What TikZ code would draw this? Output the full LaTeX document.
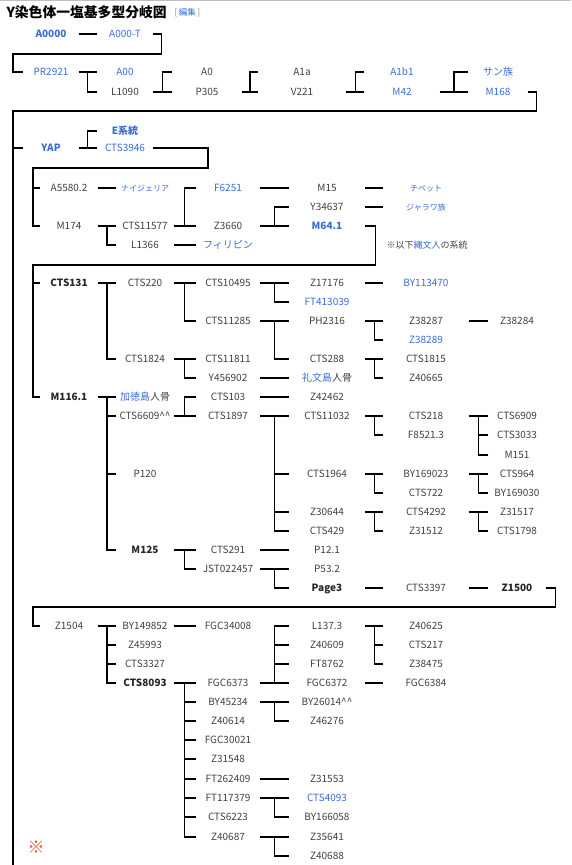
\documentclass[tikz,border=0pt]{standalone}
\usepackage{fontspec}
\setmainfont{Noto Sans CJK JP}
\usepackage{tikz}
\usetikzlibrary{calc}
\definecolor{txtgray}{RGB}{64,64,64}
\definecolor{lnkblue}{RGB}{58,108,212}
\definecolor{komered}{RGB}{255,72,48}
\NewDocumentCommand \branch{ m m m }{%
    \draw (#1.east) -- (#2.west);
    \foreach \ch in {#3} {\draw (\ch.west) -| ($(#1.east)!.5!(#2.west)$);}%
}
\NewDocumentCommand \carets{}{\textasciicircum\textasciicircum}

\begin{document}
\begin{tikzpicture}[x=1pt, y=-1pt, line width=1.1pt]
    \tikzstyle{lbl}=[inner sep=0pt, text height=7.5pt, text depth=0pt, text=txtgray, font=\fontsize{10}{12}\selectfont]
    \tikzstyle{bld}=[lbl, text=black!85, font=\fontsize{10}{12}\selectfont\bfseries]
    \tikzstyle{lnk}=[lbl, text=lnkblue]
    \tikzstyle{lnkb}=[bld, text=lnkblue]
    \tikzstyle{lnks}=[lnk, font=\fontsize{8}{10}\selectfont]
    \tikzstyle{t1}=[minimum width=54pt]
    \tikzstyle{t2}=[minimum width=55pt]
    \tikzstyle{t3}=[minimum width=69pt]
    \tikzstyle{t4}=[minimum width=87pt]
    \tikzstyle{t5}=[minimum width=74pt]
    \tikzstyle{t6}=[minimum width=58pt]
    \tikzstyle{c1}=[minimum width=56pt]
    \tikzstyle{c2}=[minimum width=56pt]
    \tikzstyle{c3}=[minimum width=63pt]
    \tikzstyle{c4}=[minimum width=75pt]
    \tikzstyle{c5}=[minimum width=84pt]
    \tikzstyle{c6}=[minimum width=56pt]
    \useasboundingbox (0,0) rectangle (571,865);
    \draw[black!25, line width=0.8pt] (0,0.8) -- (571,0.8);
    \node[anchor=west, inner sep=0pt, font=\fontsize{13.8}{16}\selectfont\bfseries] (title) at (6,12) {Y染色体一塩基多型分岐図};
    \node[anchor=west, inner sep=0pt, text=lnkblue, font=\fontsize{8.5}{10}\selectfont] (edit) at (174,12.5) {{\color{black!45}[}\,編集\,{\color{black!45}]}};
    % trunk
    \coordinate (b1) at (13,54);
    \coordinate (b2) at (13,111);
    \coordinate (trunkend) at (13,865);
    \coordinate (b3) at (208,168);
    \coordinate (b4) at (33,168);
    \coordinate (b5) at (33,265);
    \coordinate (b6) at (33,607);
    % A
    \node[lnkb, t1] (a0000) at (51,34) {A0000};
    \node[lnk, t2] (a000t) at (125,34) {A000-T};
    \node[lnk, t1] (pr2921) at (51,72) {PR2921};
    \node[lnk, t2] (a00) at (125,72) {A00};
    \node[lbl, t2] (l1090) at (125,92) {L1090};
    \node[lbl, t3] (a0) at (207,72) {A0};
    \node[lbl, t3] (p305) at (207,92) {P305};
    \node[lbl, t4] (a1a) at (302,72) {A1a};
    \node[lbl, t4] (v221) at (302,92) {V221};
    \node[lnk, t5] (a1b1) at (402,72) {A1b1};
    \node[lnk, t5] (m42) at (402,92) {M42};
    \node[lnk, t6] (san) at (498,72) {サン族};
    \node[lnk, t6] (m168) at (498,92) {M168};
    \draw (a0000.east) -- (a000t.west);
    \draw (a000t.east) -- ++(8,0) |- (b1) |- (pr2921.west);
    \branch{pr2921}{a00}{l1090}
    \branch{l1090}{p305}{a0}
    \branch{p305}{v221}{a1a}
    \branch{v221}{m42}{a1b1}
    \branch{m42}{m168}{san}
    \draw (m168.east) -- ++(9,0) |- (b2) -- (trunkend);
    % YAP
    \node[lnkb, t1] (yap) at (51,148) {YAP};
    \node[lnkb, t2] (esys) at (125,131) {E系統};
    \node[lnk, t2] (cts3946) at (125,148) {CTS3946};
    \draw (b2 |- yap.west) -- (yap.west);
    \branch{yap}{cts3946}{esys}
    % D
    \node[lbl, c1] (a5580) at (69,188) {A5580.2};
    \node[lnks, c2] (nigeria) at (145,188) {ナイジェリア};
    \node[lbl, c1] (m174) at (69,226) {M174};
    \node[lbl, c2] (cts11577) at (145,226) {CTS11577};
    \node[lbl, c2] (l1366) at (145,245) {L1366};
    \node[lnk, c3] (f6251) at (228,188) {F6251};
    \node[lbl, c3] (z3660) at (228,226) {Z3660};
    \node[lnk, c3] (phil) at (228,245) {フィリピン};
    \node[lbl, c4] (m15) at (327,188) {M15};
    \node[lbl, c4] (y34637) at (327,207) {Y34637};
    \node[lnkb, c4] (m641) at (327,226) {M64.1};
    \node[lnks, c5] (tibet) at (426,188) {チベット};
    \node[lnks, c5] (jarawa) at (426,207) {ジャラワ族};
    \node[lbl, anchor=west, font=\fontsize{9}{11}\selectfont] (note) at (386,245) {※以下{\color{lnkblue}縄文人}の系統};
    \draw (cts3946.east) -| (b3) -- (b4) |- (m174.west);
    \draw (b4 |- a5580.west) -- (a5580.west);
    \draw (a5580.east) -- (nigeria.west);
    \branch{m174}{cts11577}{l1366}
    \branch{cts11577}{z3660}{f6251}
    \draw (l1366.east) -- (phil.west);
    \draw (f6251.east) -- (m15.west);
    \branch{z3660}{m641}{y34637}
    \draw (m15.east) -- (tibet.west);
    \draw (y34637.east) -- (jarawa.west);
    % D1b
    \node[bld, c1] (cts131) at (69,283) {CTS131};
    \node[bld, c1] (m1161) at (69,397) {M116.1};
    \node[lbl, c2] (cts220) at (145,283) {CTS220};
    \node[lbl, c2] (cts1824) at (145,359) {CTS1824};
    \node[lbl, c2] (kadeok) at (145,397) {{\color{lnkblue}加徳島}人骨};
    \node[lbl, c2] (cts6609) at (145,416) {CTS6609\carets};
    \node[lbl, c2] (p120) at (145,474) {P120};
    \node[bld, c2] (m125) at (145,550) {M125};
    \node[lbl, c3] (cts10495) at (228,283) {CTS10495};
    \node[lbl, c3] (cts11285) at (228,321) {CTS11285};
    \node[lbl, c3] (cts11811) at (228,359) {CTS11811};
    \node[lbl, c3] (y456902) at (228,378) {Y456902};
    \node[lbl, c3] (cts103) at (228,397) {CTS103};
    \node[lbl, c3] (cts1897) at (228,416) {CTS1897};
    \node[lbl, c3] (cts291) at (228,550) {CTS291};
    \node[lbl, c3] (jst022457) at (228,569) {JST022457};
    \node[lbl, c4] (z17176) at (327,283) {Z17176};
    \node[lnk, c4] (ft413039) at (327,302) {FT413039};
    \node[lbl, c4] (ph2316) at (327,321) {PH2316};
    \node[lbl, c4] (cts288) at (327,359) {CTS288};
    \node[lbl, c4] (rebun) at (327,378) {{\color{lnkblue}礼文島}人骨};
    \node[lbl, c4] (z42462) at (327,397) {Z42462};
    \node[lbl, c4] (cts11032) at (327,416) {CTS11032};
    \node[lbl, c4] (cts1964) at (327,474) {CTS1964};
    \node[lbl, c4] (z30644) at (327,512) {Z30644};
    \node[lbl, c4] (cts429) at (327,531) {CTS429};
    \node[lbl, c4] (p121) at (327,550) {P12.1};
    \node[lbl, c4] (p532) at (327,569) {P53.2};
    \node[bld, c4] (page3) at (327,588) {Page3};
    \node[lnk, c5] (by113470) at (426,283) {BY113470};
    \node[lbl, c5] (z38287) at (426,321) {Z38287};
    \node[lnk, c5] (z38289) at (426,340) {Z38289};
    \node[lbl, c5] (cts1815) at (426,359) {CTS1815};
    \node[lbl, c5] (z40665) at (426,378) {Z40665};
    \node[lbl, c5] (cts218) at (426,416) {CTS218};
    \node[lbl, c5] (f85213) at (426,435) {F8521.3};
    \node[lbl, c5] (by169023) at (426,474) {BY169023};
    \node[lbl, c5] (cts722) at (426,493) {CTS722};
    \node[lbl, c5] (cts4292) at (426,512) {CTS4292};
    \node[lbl, c5] (z31512) at (426,531) {Z31512};
    \node[lbl, c5] (cts3397) at (426,588) {CTS3397};
    \node[lbl, c6] (z38284) at (517,321) {Z38284};
    \node[lbl, c6] (cts6909) at (517,416) {CTS6909};
    \node[lbl, c6] (cts3033) at (517,435) {CTS3033};
    \node[lbl, c6] (m151) at (517,455) {M151};
    \node[lbl, c6] (cts964) at (517,474) {CTS964};
    \node[lbl, c6] (by169030) at (517,493) {BY169030};
    \node[lbl, c6] (z31517) at (517,512) {Z31517};
    \node[lbl, c6] (cts1798) at (517,531) {CTS1798};
    \node[bld, c6] (z1500) at (517,588) {Z1500};
    \draw (m641.east) -- ++(10,0) |- (b5) |- (m1161.west);
    \draw (b5 |- cts131.west) -- (cts131.west);
    \branch{cts131}{cts220}{cts1824}
    \branch{cts220}{cts10495}{cts11285}
    \branch{cts1824}{cts11811}{y456902}
    \branch{cts10495}{z17176}{ft413039}
    \branch{cts11285}{ph2316}{cts288}
    \draw (y456902.east) -- (rebun.west);
    \draw (z17176.east) -- (by113470.west);
    \branch{ph2316}{z38287}{z38289}
    \draw (z38287.east) -- (z38284.west);
    \branch{cts288}{cts1815}{z40665}
    \branch{m1161}{kadeok}{cts6609,p120,m125}
    \branch{cts6609}{cts1897}{cts103}
    \draw (cts103.east) -- (z42462.west);
    \branch{cts1897}{cts11032}{cts1964,z30644,cts429}
    \branch{cts11032}{cts218}{f85213}
    \branch{cts218}{cts6909}{cts3033,m151}
    \branch{cts1964}{by169023}{cts722}
    \branch{by169023}{cts964}{by169030}
    \branch{z30644}{cts4292}{z31512}
    \branch{cts4292}{z31517}{cts1798}
    \branch{m125}{cts291}{jst022457}
    \draw (cts291.east) -- (p121.west);
    \branch{jst022457}{p532}{page3}
    \draw (page3.east) -- (cts3397.west);
    \draw (cts3397.east) -- (z1500.west);
    % Z1504
    \node[lbl, c1] (z1504) at (69,626) {Z1504};
    \node[lbl, c2] (by149852) at (145,626) {BY149852};
    \node[lbl, c2] (z45993) at (145,645) {Z45993};
    \node[lbl, c2] (cts3327) at (145,664) {CTS3327};
    \node[bld, c2] (cts8093) at (145,683) {CTS8093};
    \node[lbl, c3] (fgc34008) at (228,626) {FGC34008};
    \node[lbl, c3] (fgc6373) at (228,683) {FGC6373};
    \node[lbl, c3] (by45234) at (228,702) {BY45234};
    \node[lbl, c3] (z40614) at (228,721) {Z40614};
    \node[lbl, c3] (fgc30021) at (228,740) {FGC30021};
    \node[lbl, c3] (z31548) at (228,759) {Z31548};
    \node[lbl, c3] (ft262409) at (228,779) {FT262409};
    \node[lbl, c3] (ft117379) at (228,798) {FT117379};
    \node[lbl, c3] (cts6223) at (228,817) {CTS6223};
    \node[lbl, c3] (z40687) at (228,837) {Z40687};
    \node[lbl, c4] (l1373) at (327,626) {L137.3};
    \node[lbl, c4] (z40609) at (327,645) {Z40609};
    \node[lbl, c4] (ft8762) at (327,664) {FT8762};
    \node[lbl, c4] (fgc6372) at (327,683) {FGC6372};
    \node[lbl, c4] (by26014) at (327,702) {BY26014\carets};
    \node[lbl, c4] (z46276) at (327,721) {Z46276};
    \node[lbl, c4] (z31553) at (327,779) {Z31553};
    \node[lnk, c4] (cts4093) at (327,798) {CTS4093};
    \node[lbl, c4] (by166058) at (327,817) {BY166058};
    \node[lbl, c4] (z35641) at (327,837) {Z35641};
    \node[lbl, c4] (z40688) at (327,856) {Z40688};
    \node[lbl, c5] (z40625) at (426,626) {Z40625};
    \node[lbl, c5] (cts217) at (426,645) {CTS217};
    \node[lbl, c5] (z38475) at (426,664) {Z38475};
    \node[lbl, c5] (fgc6384) at (426,683) {FGC6384};
    \draw (z1500.east) -- ++(10,0) |- (b6) |- (z1504.west);
    \branch{z1504}{by149852}{z45993,cts3327,cts8093}
    \draw (by149852.east) -- (fgc34008.west);
    \branch{cts8093}{fgc6373}{by45234,z40614,fgc30021,z31548,ft262409,ft117379,cts6223,z40687}
    \branch{fgc6373}{fgc6372}{l1373,z40609,ft8762}
    \branch{by45234}{by26014}{z46276}
    \draw (ft262409.east) -- (z31553.west);
    \branch{ft117379}{cts4093}{by166058}
    \branch{z40687}{z35641}{z40688}
    \branch{l1373}{z40625}{cts217,z38475}
    \draw (fgc6372.east) -- (fgc6384.west);
    \node[inner sep=0pt, text=komered, font=\fontsize{17}{18}\selectfont\bfseries] (kome) at (36,847) {※};
\end{tikzpicture}
\end{document}
